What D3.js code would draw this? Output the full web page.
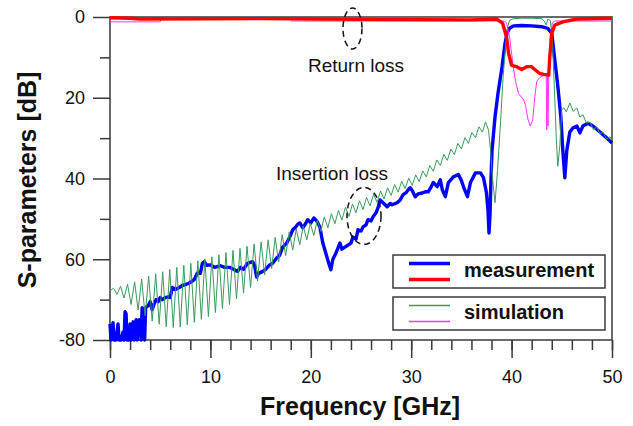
<!DOCTYPE html>
<html>
<head>
<meta charset="utf-8">
<script src="https://cdn.jsdelivr.net/npm/d3@7"></script>
<style>
  body { margin: 0; background: #fff; }
  svg text { font-family: "Liberation Sans", Arial, sans-serif; }
</style>
</head>
<body>
<div id="plot"></div>
<script>
// values: [frequency GHz, dB]
const xTicks = [0, 10, 20, 30, 40, 50];
const xMinorTicks = d3.range(0, 51, 2);
const yTicks = [-80, -60, -40, -20, 0];
const yTickLabels = ['-80', '60', '40', '20', '0'];
const yMinorTicks = [-70, -50, -30, -10];

const measS21 = [
  [0, -76], [0.1, -80], [0.3, -75.7], [0.4, -80], [0.6, -80], [0.8, -76], [0.9, -80], [1.1, -80],
  [1.3, -78], [1.4, -80], [1.5, -73], [1.6, -73.5], [1.7, -80], [1.9, -80], [2.0, -76], [2.1, -80],
  [2.3, -75.5], [2.4, -80], [2.6, -75], [2.7, -80], [2.9, -75], [3.0, -76], [3.1, -80], [3.2, -72],
  [3.35, -72.5], [3.45, -80], [3.55, -72], [3.8, -71.5], [4.0, -70.5], [4.2, -72.5], [4.4, -71],
  [4.6, -70], [4.8, -70.5], [5.0, -69.5], [5.2, -70], [5.5, -69.5], [5.8, -69.3], [6.0, -69.5],
  [6.2, -67], [6.5, -67.5], [6.9, -67], [7.2, -66.5], [7.5, -66.3], [7.8, -66], [8.1, -65.6],
  [8.4, -65], [8.7, -63.4], [9.0, -63.5], [9.2, -61], [9.4, -60.6], [9.6, -61.5], [10.0, -61.4],
  [10.4, -62], [10.7, -61.8], [11.0, -61.6], [11.4, -62], [11.9, -62], [12.3, -62.5], [12.7, -63],
  [13.0, -62], [13.3, -62.5], [13.7, -61], [14.2, -60.6], [14.4, -61.5], [14.6, -64.4], [14.8, -63.5],
  [15.2, -63], [15.5, -62.5], [15.9, -61.4], [16.2, -61], [16.6, -59.7], [16.9, -59], [17.2, -57],
  [17.6, -56], [17.9, -54.5], [18.2, -52.7], [18.5, -52], [18.7, -51.3], [18.9, -51], [19.2, -52.2],
  [19.4, -51.5], [19.7, -50.2], [20.0, -51], [20.3, -49.8], [20.6, -50.5], [20.9, -52], [21.2, -56],
  [21.6, -59.4], [21.85, -61.5], [22.0, -62.6], [22.2, -60], [22.5, -58.5], [22.9, -56], [23.1, -57.5],
  [23.4, -57], [23.7, -56.5], [24.0, -56], [24.2, -54.5], [24.5, -55], [24.7, -52.7], [25.0, -53],
  [25.2, -52], [25.5, -51.5], [25.7, -50.2], [26.0, -50.5], [26.2, -49.5], [26.5, -48.5], [26.7, -47.2],
  [26.9, -45.3], [27.2, -46], [27.6, -47], [27.9, -46.2], [28.1, -46.5], [28.6, -46], [28.9, -45.3],
  [29.2, -44], [29.5, -43.5], [29.7, -42.8], [29.9, -42.3], [30.1, -43], [30.4, -44.5], [30.7, -43.8],
  [31.1, -43.6], [31.4, -43.3], [31.7, -43.3], [32.0, -42], [32.2, -41], [32.6, -42], [32.9, -40.3],
  [33.1, -42.8], [33.4, -44.5], [33.7, -41], [34.2, -39.6], [34.7, -39], [35.0, -40.5], [35.2, -42],
  [35.6, -44.5], [35.9, -41], [36.4, -38.6], [36.9, -38.6], [37.2, -39.8], [37.5, -43.6], [37.65, -48],
  [37.75, -53.5], [37.85, -49], [37.95, -40], [38.05, -33], [38.35, -24.7], [38.65, -18.8], [39.05, -12.3],
  [39.35, -6.5], [39.55, -4], [39.8, -2.8], [40.2, -2.2], [41, -2.1], [42, -2.2], [43, -2.4],
  [43.6, -2.8], [44.0, -4], [44.3, -10.6], [44.6, -17], [44.9, -24.7], [45.1, -33], [45.3, -39.8],
  [45.5, -33], [45.8, -28.5], [46.1, -27.5], [46.5, -27], [46.8, -28.7], [47.1, -27], [47.6, -26.3],
  [48.1, -27], [48.8, -28.5], [49.5, -30], [50, -31.2]
];

const measS11 = [
  [0, -0.2], [2, -0.3], [3, -0.5], [15, -0.4], [25, -0.6], [36, -0.7], [38.5, -0.5], [39.1, -1.5],
  [39.5, -5], [39.7, -9], [40.0, -12], [40.5, -12.3], [41.0, -13], [41.5, -12.3], [42.0, -12.3],
  [42.3, -13], [42.8, -14], [43.2, -14.2], [43.7, -14.4], [43.8, -10], [44.0, -4], [44.3, -2],
  [45.1, -1.2], [46.5, -0.5], [50, -0.3]
];

const simS21 = [
  [0, -67.8], [0.35, -67.2], [0.7, -68.7], [1.05, -66.7], [1.4, -69.6], [1.75, -66.2], [2.1, -71.2],
  [2.45, -65.6], [2.8, -72.6], [3.15, -64.9], [3.5, -74.0], [3.85, -64.2], [4.2, -75.3], [4.55, -63.6],
  [4.9, -76.1], [5.25, -63.1], [5.6, -76.7], [5.95, -62.5], [6.3, -76.9], [6.65, -62.0], [7.0, -76.8],
  [7.35, -61.5], [7.7, -76.2], [8.05, -61.0], [8.4, -75.6], [8.75, -60.4], [9.1, -74.9], [9.45, -59.9],
  [9.8, -74.2], [10.15, -59.4], [10.5, -73.2], [10.85, -58.9], [11.2, -72.2], [11.55, -58.3],
  [11.9, -71.2], [12.25, -57.8], [12.6, -69.8], [12.95, -57.3], [13.3, -68.4], [13.65, -56.8],
  [14.0, -67.0], [14.35, -56.2], [14.7, -65.4], [15.05, -55.7], [15.4, -63.9], [15.75, -55.2],
  [16.1, -62.3], [16.45, -54.6], [16.8, -60.7], [17.15, -53.9], [17.5, -59.1], [17.85, -53.2],
  [18.2, -57.7], [18.55, -52.5], [18.9, -56.4], [19.25, -51.8], [19.6, -55.2], [19.95, -51.1],
  [20.3, -54.1], [20.65, -50.3], [21.0, -53.1], [21.35, -49.5], [21.7, -52.2], [22.05, -48.7],
  [22.4, -51.2], [22.75, -47.9], [23.1, -50.3], [23.45, -47.1], [23.8, -49.4], [24.15, -46.3],
  [24.5, -48.5], [24.85, -45.5], [25.2, -47.7], [25.55, -44.7], [25.9, -46.8], [26.25, -43.9],
  [26.6, -45.9], [26.95, -43.1], [27.3, -45.1], [27.65, -42.3], [28.0, -44.2], [28.35, -41.5],
  [28.7, -43.4], [29.05, -40.7], [29.4, -42.5], [29.75, -39.9], [30.1, -41.7], [30.45, -39.1],
  [30.8, -40.8], [31.15, -38.1], [31.5, -39.6], [31.85, -36.8], [32.2, -38.2], [32.55, -35.4],
  [32.9, -36.8], [33.25, -34.0], [33.6, -35.5], [33.95, -32.7], [34.3, -34.1], [34.65, -31.3],
  [35.0, -32.7], [35.35, -29.9], [35.7, -31.3], [36.05, -28.6], [36.4, -29.9], [36.75, -27.2],
  [37.1, -28.5], [37.4, -26.0], [37.7, -28], [37.9, -33], [38.1, -40], [38.35, -46], [38.6, -38],
  [38.9, -26], [39.15, -15], [39.4, -7], [39.6, -2.5], [39.8, -0.8], [40.2, -0.4], [41, -0.3],
  [42, -0.3], [43, -0.4], [43.25, -1], [43.45, -2], [43.6, -0.6], [43.85, -0.8], [44.05, -5],
  [44.25, -17], [44.45, -30], [44.6, -37], [44.8, -32], [45.0, -23], [45.2, -22.5], [45.45, -23.5],
  [45.8, -21.3], [46.15, -23.4], [46.5, -22.5], [46.8, -24.8], [47.1, -24.2], [47.45, -26.3],
  [47.8, -26], [48.15, -27.9], [48.5, -27.2], [48.8, -29], [49.1, -28.5], [49.45, -30.2],
  [49.8, -29.7], [50, -30.5]
];

const simS11 = [
  [0, -1.2], [5, -1.2], [5.05, -0.5], [18, -0.5], [18.05, -1], [39.3, -1], [39.5, -1.5], [39.8, -5],
  [40.05, -10], [40.2, -13], [40.4, -16], [40.7, -19], [41.2, -20.5], [41.4, -22], [41.6, -25],
  [41.85, -27], [42.1, -25.5], [42.3, -20], [42.5, -16], [42.8, -15], [43.2, -14.5], [43.45, -14],
  [43.5, -28], [43.57, -14.5], [43.63, -27], [43.7, -14], [43.85, -5], [44.05, -1.5], [44.3, -1],
  [50, -1]
];

const svgWidth = 633;
const svgHeight = 426;
const margin = {top: 17, bottom: 86, left: 110, right: 21};
const axisColor = '#3a3a3a';
const green = '#3a9a5c';
const magenta = '#ff33ff';

const svg = d3.select('#plot').append('svg')
    .attr('width', svgWidth)
    .attr('height', svgHeight)
    .style('background', '#fff');

let x = d3.scaleLinear()
    .domain([0, 50])
    .range([margin.left, svgWidth - margin.right]);

let y = d3.scaleLinear()
    .domain([-80, 0])
    .range([svgHeight - margin.bottom, margin.top]);

// minor ticks first, majors on top
svg.append('g')
    .attr('transform', `translate(0,${y(-80)})`)
    .call(d3.axisBottom(x).tickValues(xMinorTicks).tickSize(10).tickFormat(''));
svg.append('g')
    .classed('axis xaxis', true)
    .attr('transform', `translate(0,${y(-80)})`)
    .call(d3.axisBottom(x).tickValues(xTicks).tickSize(18).tickPadding(12));
svg.append('g')
    .attr('transform', `translate(${x(0)},0)`)
    .call(d3.axisLeft(y).tickValues(yMinorTicks).tickSize(10).tickFormat(''));
svg.append('g')
    .classed('axis yaxis', true)
    .attr('transform', `translate(${x(0)},0)`)
    .call(d3.axisLeft(y).tickValues(yTicks).tickSize(17).tickPadding(8)
        .tickFormat((d, i) => yTickLabels[i]));

svg.selectAll('.domain').remove();
svg.selectAll('.tick line').attr('stroke', axisColor).attr('stroke-width', 1.5);
svg.selectAll('.tick text')
    .attr('fill', '#111')
    .style('font-size', '18px');

// frame
svg.append('rect')
    .attr('x', x(0))
    .attr('y', y(0))
    .attr('width', x(50) - x(0))
    .attr('height', y(-80) - y(0))
    .attr('fill', 'none')
    .attr('stroke', axisColor)
    .attr('stroke-width', 1.5);

const line = d3.line()
    .x(d => x(d[0]))
    .y(d => y(d[1]));

const series = [
  {data: measS21, color: '#0000ff', width: 3.4},
  {data: simS21, color: green, width: 1},
  {data: simS11, color: magenta, width: 1},
  {data: measS11, color: '#ff0000', width: 3.4}
];

svg.append('g')
    .selectAll('path')
    .data(series)
    .enter()
    .append('path')
    .attr('fill', 'none')
    .attr('stroke', d => d.color)
    .attr('stroke-width', d => d.width)
    .attr('stroke-linejoin', 'round')
    .attr('d', d => line(d.data));

// annotations
svg.append('ellipse')
    .attr('cx', 352.5).attr('cy', 28.5).attr('rx', 9.5).attr('ry', 20.5)
    .attr('fill', 'none').attr('stroke', '#111').attr('stroke-width', 1.5)
    .attr('stroke-dasharray', '6,4');
svg.append('ellipse')
    .attr('cx', 364).attr('cy', 216).attr('rx', 17).attr('ry', 28.5)
    .attr('fill', 'none').attr('stroke', '#111').attr('stroke-width', 1.5)
    .attr('stroke-dasharray', '6,4');

svg.append('text')
    .attr('x', 356).attr('y', 72)
    .attr('text-anchor', 'middle')
    .style('font-size', '19px')
    .attr('fill', '#111')
    .text('Return loss');
svg.append('text')
    .attr('x', 332).attr('y', 180)
    .attr('text-anchor', 'middle')
    .style('font-size', '19px')
    .attr('fill', '#111')
    .text('Insertion loss');

// legend
const legend = [
  {label: 'measurement', top: 255, colors: ['#0000ff', '#ff0000'], width: 3.5},
  {label: 'simulation', top: 297, colors: [green, magenta], width: 1.5}
];

const lg = svg.append('g').selectAll('g')
    .data(legend)
    .enter()
    .append('g');

lg.append('rect')
    .attr('x', 393)
    .attr('y', d => d.top)
    .attr('width', 212)
    .attr('height', 33)
    .attr('fill', '#fff')
    .attr('stroke', axisColor)
    .attr('stroke-width', 1.5);

lg.each(function (d) {
  d3.select(this).selectAll('line')
      .data(d.colors)
      .enter()
      .append('line')
      .attr('x1', 409).attr('x2', 450)
      .attr('y1', (c, i) => d.top + 8.5 + i * 16)
      .attr('y2', (c, i) => d.top + 8.5 + i * 16)
      .attr('stroke', c => c)
      .attr('stroke-width', d.width);
});

lg.append('text')
    .attr('x', 464)
    .attr('y', d => d.top + 22)
    .style('font-size', '20px')
    .style('font-weight', 'bold')
    .attr('fill', '#111')
    .text(d => d.label);

// axis titles
svg.append('text')
    .attr('x', 360)
    .attr('y', 415)
    .attr('text-anchor', 'middle')
    .style('font-size', '25px')
    .style('font-weight', 'bold')
    .attr('fill', '#111')
    .text('Frequency [GHz]');

svg.append('text')
    .attr('transform', 'translate(36,180) rotate(-90)')
    .attr('text-anchor', 'middle')
    .style('font-size', '25px')
    .style('font-weight', 'bold')
    .attr('fill', '#111')
    .text('S-parameters [dB]');
</script>
</body>
</html>
